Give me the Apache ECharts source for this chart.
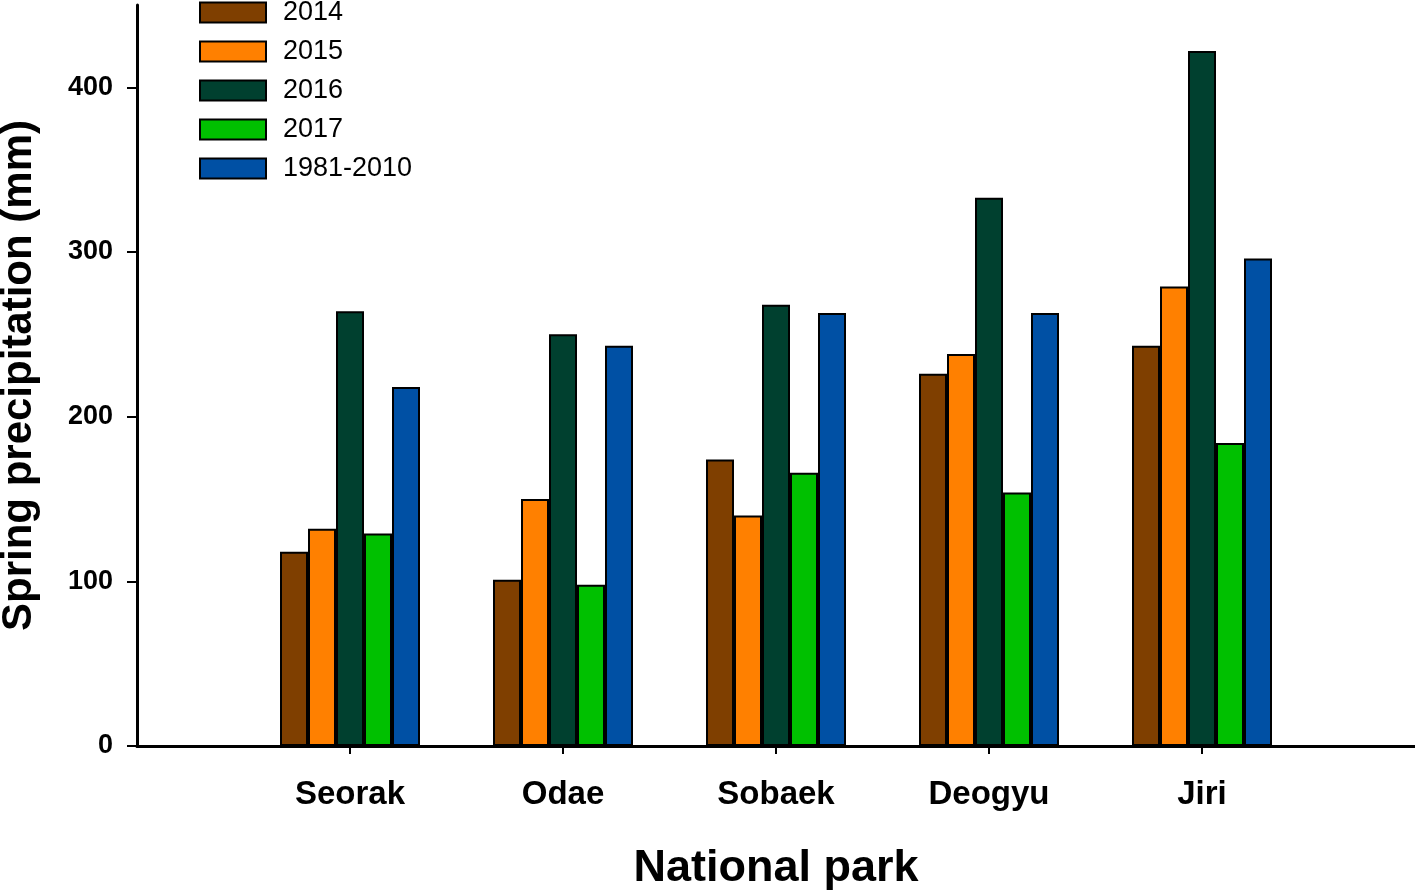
<!DOCTYPE html>
<html><head><meta charset="utf-8">
<script src="https://cdn.jsdelivr.net/npm/echarts@6/dist/echarts.min.js"></script>
<style>html,body{margin:0;padding:0;background:#fff}#c{width:1415px;height:890px}</style>
</head><body><div id="c"></div>
<script>
const categories = ['', 'Seorak', 'Odae', 'Sobaek', 'Deogyu', 'Jiri', ''];
const seriesNames = ['2014', '2015', '2016', '2017', '1981-2010'];
const v2014 = [null, 118, 101, 174, 226, 243, null];
const v2015 = [null, 132, 150, 140, 238, 279, null];
const v2016 = [null, 264, 250, 268, 333, 422, null];
const v2017 = [null, 129, 98, 166, 154, 184, null];
const vNormal = [null, 218, 243, 263, 263, 296, null];
const yTicks = [0, 100, 200, 300, 400];
const colors = ['#7f3f00', '#ff8000', '#00402f', '#00c000', '#0050a4'];

const dataSets = [v2014, v2015, v2016, v2017, vNormal];
const font = 'Liberation Sans, Arial, Helvetica, sans-serif';
const chart = echarts.init(document.getElementById('c'), null, {renderer: 'canvas'});
chart.setOption({
  animation: false,
  backgroundColor: '#fff',
  grid: {left: 137, right: 0, top: 5, bottom: 144, containLabel: false, outerBoundsMode: 'none'},
  legend: {
    orient: 'vertical', left: 194, top: -6,
    icon: 'rect',
    itemWidth: 66, itemHeight: 20, itemGap: 12,
    data: seriesNames,
    textStyle: {fontFamily: font, fontSize: 27, color: '#000', padding: [0, 0, 0, 12]}
  },
  xAxis: {
    type: 'category', data: categories, boundaryGap: false,
    axisLine: {lineStyle: {color: '#000', width: 3}},
    axisTick: {show: true, length: 8, lineStyle: {color: '#000', width: 2},
      interval: (i) => i > 0 && i < categories.length - 1},
    axisLabel: {fontFamily: font, fontSize: 33, fontWeight: 'bold', color: '#000', margin: 32, interval: 0},
    splitLine: {show: false},
    name: 'National park', nameLocation: 'middle', nameGap: 100,
    nameTextStyle: {fontFamily: font, fontSize: 45, fontWeight: 'bold', color: '#000'}
  },
  yAxis: {
    type: 'value', min: 0, max: 450,
    axisLine: {show: true, lineStyle: {color: '#000', width: 3}},
    axisTick: {show: true, length: 10, lineStyle: {color: '#000', width: 2}, customValues: yTicks},
    axisLabel: {fontFamily: font, fontSize: 27, fontWeight: 'bold', color: '#000', margin: 24, customValues: yTicks},
    splitLine: {show: false},
    name: 'Spring precipitation (mm)', nameLocation: 'middle', nameGap: 97,
    nameTextStyle: {fontFamily: font, fontSize: 42, fontWeight: 'bold', color: '#000'}
  },
  series: seriesNames.map((n, i) => ({
    name: n, type: 'bar', data: dataSets[i], barWidth: 28, barGap: '0%',
    itemStyle: {color: colors[i], borderColor: '#000', borderWidth: 2}
  }))
});
</script></body></html>
